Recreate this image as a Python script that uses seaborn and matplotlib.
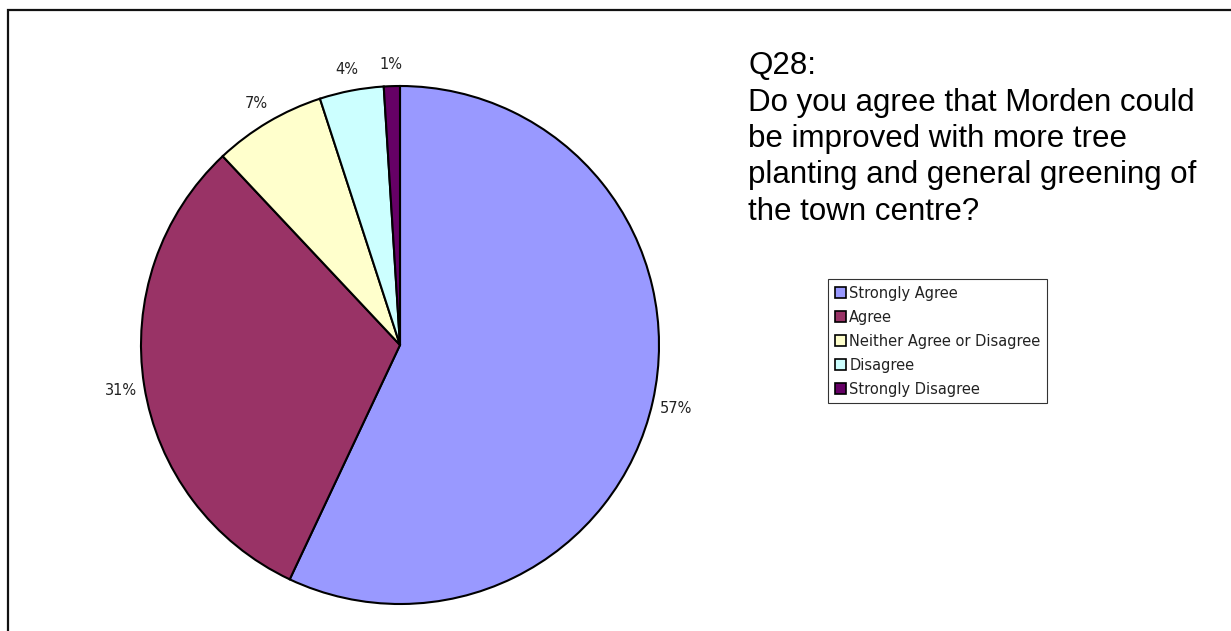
import matplotlib
matplotlib.use("Agg")
import matplotlib.pyplot as plt
from matplotlib.patches import Patch, Rectangle
import seaborn as sns

# Survey responses for Q28
categories = ["Strongly Agree", "Agree", "Neither Agree or Disagree",
              "Disagree", "Strongly Disagree"]
shares = [57, 31, 7, 4, 1]
slice_colors = ["#9999FF", "#993366", "#FFFFCC", "#CCFFFF", "#660066"]
title_lines = ["Q28:",
               "Do you agree that Morden could",
               "be improved with more tree",
               "planting and general greening of",
               "the town centre?"]

sns.set_style("white")
plt.rcParams["font.family"] = ["DejaVu Sans"]

W, H = 1231, 631
fig = plt.figure(figsize=(W / 100, H / 100), dpi=100)
fig.patch.set_facecolor("white")

# Chart-area border (open to the right and bottom)
fig.add_artist(Rectangle((8 / W, -0.1), 1.2, (H - 10) / H + 0.1,
                         transform=fig.transFigure, fill=False,
                         edgecolor="#111111", linewidth=1.6))

# Pie: centre (400, 345) px, radius 259 px
cx, cy, r = 400, 345, 259
ax = fig.add_axes([(cx - r) / W, (H - cy - r) / H, 2 * r / W, 2 * r / H])
pct_labels = [f"{v}%" for v in shares]
wedges, texts = ax.pie(
    shares, colors=slice_colors, labels=pct_labels, startangle=90,
    counterclock=False, labeldistance=1.09, radius=1.0,
    wedgeprops=dict(edgecolor="black", linewidth=1.5),
    textprops=dict(fontsize=10.5, color="#222222"),
)
for t in texts:
    t.set_ha("center")
    t.set_va("center_baseline")
ax.set_xlim(-1, 1)
ax.set_ylim(-1, 1)
ax.set_aspect("equal")
ax.axis("off")

# Question text
base0, step = 74, 36.5
for i, line in enumerate(title_lines):
    fig.text(748 / W, 1 - (base0 + i * step) / H, line,
             family="Liberation Sans", fontsize=22.5, color="black",
             ha="left", va="baseline")

# Legend
handles = [Patch(facecolor=c, edgecolor="black", linewidth=1.2) for c in slice_colors]
leg = fig.legend(handles, categories, loc="upper left",
                 bbox_to_anchor=(828 / W, 1 - 279 / H),
                 bbox_transform=fig.transFigure,
                 fontsize=10.5, frameon=True, fancybox=False, shadow=False,
                 handlelength=0.75, handleheight=0.75, handletextpad=0.25,
                 labelspacing=0.62, borderpad=0.45, borderaxespad=0)
leg.get_frame().set_edgecolor("black")
leg.get_frame().set_linewidth(0.8)
for t in leg.get_texts():
    t.set_color("#222222")

fig.savefig("out.png", dpi=100, facecolor="white")
